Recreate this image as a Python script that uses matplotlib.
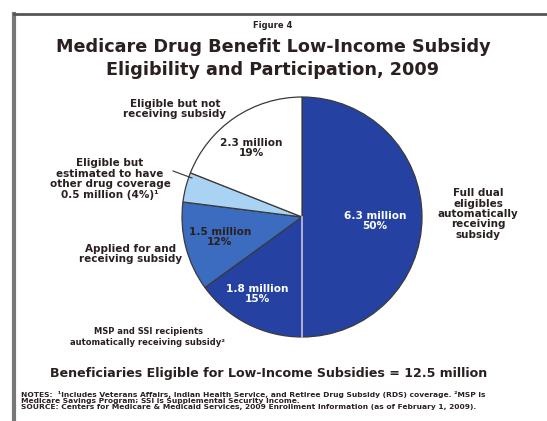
import matplotlib.pyplot as plt
from matplotlib.lines import Line2D
import numpy as np

# data (percent of 12.5 million eligible)
groups = ["Full dual eligibles automatically receiving subsidy",
          "MSP and SSI recipients automatically receiving subsidy",
          "Applied for and receiving subsidy",
          "Eligible but estimated to have other drug coverage",
          "Eligible but not receiving subsidy"]
millions = ["6.3", "1.8", "1.5", "0.5", "2.3"]
shares = [50, 15, 12, 4, 19]
colors = ["#2542a2", "#2542a2", "#3b6cbf", "#aad3f3", "#ffffff"]

W, H = 547, 421
fig = plt.figure(figsize=(W / 100, H / 100), dpi=100)
ax = fig.add_axes([0, 0, 1, 1])
ax.set_xlim(0, W)
ax.set_ylim(0, H)
ax.set_aspect("equal")
ax.axis("off")

def py(y):
    # pixel row -> data y
    return H - y

# frame
ax.add_line(Line2D([14, 14], [py(14), py(421)], color="#777777", lw=3))
ax.add_line(Line2D([14, W], [py(14), py(14)], color="#555555", lw=2))

dark = "#2b2020"
ax.text(273, py(25), "Figure 4", ha="center", va="center", fontsize=6, fontweight="bold", color=dark)
ax.text(273, py(47), "Medicare Drug Benefit Low-Income Subsidy", ha="center", va="center",
        fontsize=12.7, fontweight="bold", color=dark)
ax.text(273, py(70), "Eligibility and Participation, 2009", ha="center", va="center",
        fontsize=12.7, fontweight="bold", color=dark)

cx, cy, r = 302, 217, 120
wedges, _ = ax.pie(shares, center=(cx, py(cy)), radius=r, startangle=90, counterclock=False,
                   colors=colors, wedgeprops=dict(edgecolor="#3a3a3a", linewidth=0.9))
ax.set_xlim(0, W)
ax.set_ylim(0, H)

# light separator between the two dark blue slices
ang = np.deg2rad(90 - 360 * shares[0] / 100)
ax.add_line(Line2D([cx, cx + r * np.cos(ang)], [py(cy), py(cy) + r * np.sin(ang)],
                   color="#c9c4ea", lw=1.2))

# in-slice labels
inner = [(375, 221, "white"), (257, 294, "white"), (220, 237, dark), (None, None, None), (251, 148, dark)]
for (x, y, c), m, s in zip(inner, millions, shares):
    if x is None:
        continue
    ax.text(x, py(y), f"{m} million\n{s}%", ha="center", va="center", fontsize=7.6,
            fontweight="bold", color=c, linespacing=1.0)

kw = dict(ha="center", va="center", fontsize=7.5, fontweight="bold", color=dark, linespacing=1.05)
ax.text(478, py(214), "Full dual\neligibles\nautomatically\nreceiving\nsubsidy", **kw)
ax.text(148, py(337), "MSP and SSI recipients\nautomatically receiving subsidy²",
        **{**kw, "fontsize": 6.0, "linespacing": 1.25})
ax.text(131, py(254), "Applied for and\nreceiving subsidy", **kw)
ax.text(110, py(179), "Eligible but\nestimated to have\nother drug coverage\n" + millions[3] + " million (" + str(shares[3]) + "%)¹", **kw)
ax.text(175, py(109), "Eligible but not\nreceiving subsidy", **kw)
ax.add_line(Line2D([173, 192], [py(171), py(178)], color="#333333", lw=0.8))

ax.text(269, py(373), "Beneficiaries Eligible for Low-Income Subsidies = 12.5 million", ha="center", va="center",
        fontsize=9.1, fontweight="bold", color=dark)

notes = ("NOTES:  ¹Includes Veterans Affairs, Indian Health Service, and Retiree Drug Subsidy (RDS) coverage. ²MSP is\n"
         "Medicare Savings Program; SSI is Supplemental Security Income.\n"
         "SOURCE: Centers for Medicare & Medicaid Services, 2009 Enrollment Information (as of February 1, 2009).")
ax.text(21, py(400), notes, ha="left", va="center", fontsize=5.4, fontweight="bold", color=dark, linespacing=1.0)

fig.savefig("out.png", dpi=100, facecolor="white")
